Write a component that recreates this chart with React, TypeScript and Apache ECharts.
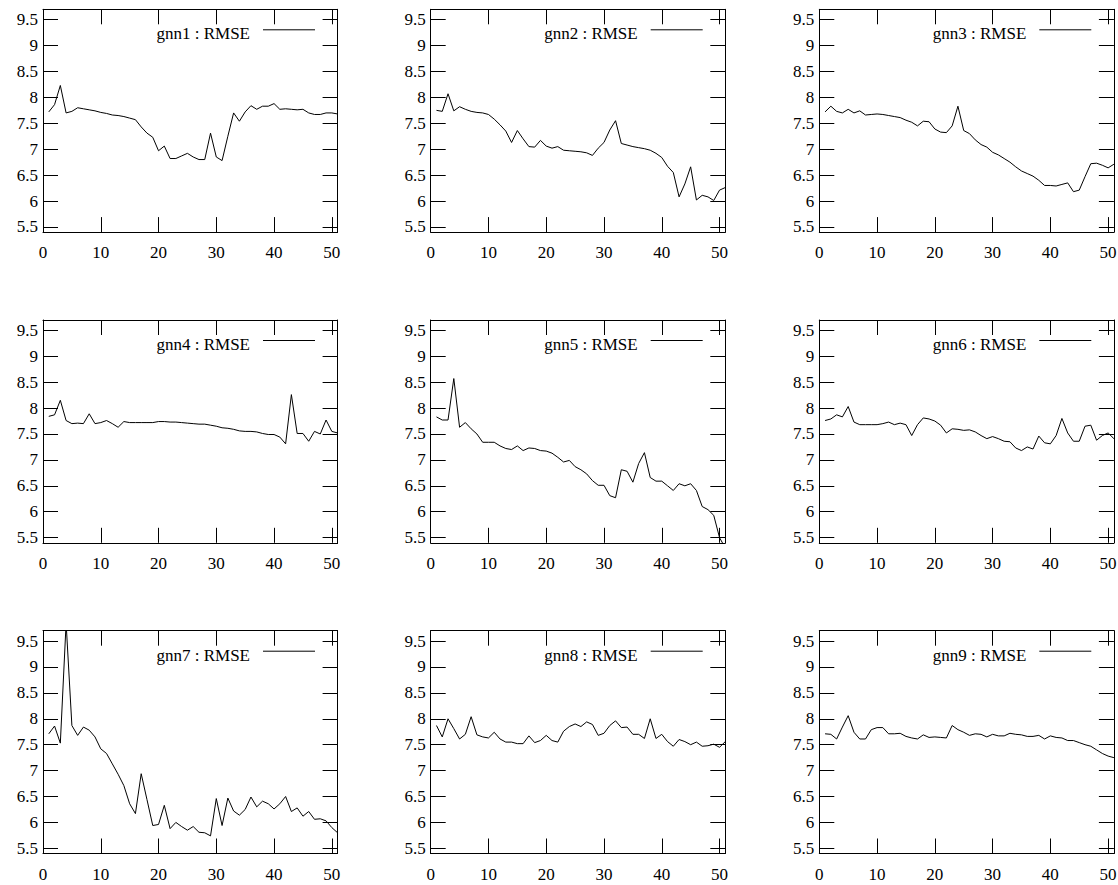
import React, { useEffect, useRef } from "react";
import * as echarts from "echarts";

const X_TICKS = [0, 10, 20, 30, 40, 50];
const Y_TICKS = [5.5, 6, 6.5, 7, 7.5, 8, 8.5, 9, 9.5];
const EPOCHS = [1, 2, 3, 4, 5, 6, 7, 8, 9, 10, 11, 12, 13, 14, 15, 16, 17, 18, 19, 20, 21, 22, 23, 24, 25, 26, 27, 28, 29, 30, 31, 32, 33, 34, 35, 36, 37, 38, 39, 40, 41, 42, 43, 44, 45, 46, 47, 48, 49, 50, 51];
const NAMES = ["gnn1", "gnn2", "gnn3", "gnn4", "gnn5", "gnn6", "gnn7", "gnn8", "gnn9"];
const METRIC = "RMSE";

const gnn1 = [7.72, 7.86, 8.23, 7.70, 7.73, 7.80, 7.78, 7.76, 7.74, 7.71, 7.69, 7.66, 7.65, 7.63, 7.60, 7.57, 7.43, 7.31, 7.23, 6.97, 7.06, 6.82, 6.82, 6.87, 6.92, 6.85, 6.80, 6.80, 7.31, 6.85, 6.78, 7.25, 7.70, 7.54, 7.72, 7.84, 7.77, 7.83, 7.83, 7.88, 7.77, 7.78, 7.77, 7.76, 7.77, 7.70, 7.67, 7.67, 7.70, 7.70, 7.68];
const gnn2 = [7.75, 7.73, 8.07, 7.74, 7.82, 7.77, 7.73, 7.71, 7.70, 7.67, 7.58, 7.47, 7.35, 7.13, 7.36, 7.20, 7.05, 7.04, 7.17, 7.06, 7.02, 7.05, 6.98, 6.97, 6.96, 6.95, 6.93, 6.88, 7.02, 7.13, 7.37, 7.55, 7.11, 7.08, 7.05, 7.03, 7.01, 6.98, 6.92, 6.84, 6.67, 6.55, 6.08, 6.33, 6.66, 6.02, 6.11, 6.08, 6.01, 6.21, 6.26];
const gnn3 = [7.72, 7.83, 7.73, 7.70, 7.77, 7.70, 7.74, 7.66, 7.67, 7.68, 7.67, 7.65, 7.63, 7.61, 7.56, 7.52, 7.45, 7.54, 7.53, 7.39, 7.33, 7.32, 7.45, 7.83, 7.36, 7.30, 7.18, 7.09, 7.04, 6.94, 6.89, 6.82, 6.75, 6.66, 6.58, 6.53, 6.48, 6.40, 6.30, 6.30, 6.29, 6.32, 6.35, 6.18, 6.21, 6.47, 6.72, 6.73, 6.69, 6.64, 6.71];
const gnn4 = [7.84, 7.87, 8.15, 7.76, 7.70, 7.71, 7.70, 7.89, 7.70, 7.72, 7.76, 7.70, 7.63, 7.74, 7.72, 7.72, 7.72, 7.72, 7.72, 7.74, 7.74, 7.73, 7.73, 7.72, 7.71, 7.70, 7.69, 7.69, 7.67, 7.65, 7.62, 7.61, 7.59, 7.56, 7.55, 7.55, 7.54, 7.51, 7.49, 7.49, 7.44, 7.31, 8.26, 7.51, 7.51, 7.36, 7.55, 7.50, 7.77, 7.55, 7.52];
const gnn5 = [7.83, 7.77, 7.77, 8.57, 7.63, 7.72, 7.60, 7.50, 7.34, 7.34, 7.34, 7.27, 7.22, 7.20, 7.27, 7.18, 7.23, 7.22, 7.18, 7.17, 7.13, 7.05, 6.96, 6.99, 6.87, 6.81, 6.73, 6.60, 6.51, 6.51, 6.31, 6.27, 6.81, 6.78, 6.57, 6.93, 7.14, 6.66, 6.59, 6.59, 6.50, 6.41, 6.54, 6.50, 6.54, 6.41, 6.10, 6.04, 5.93, 5.50, 5.30];
const gnn6 = [7.76, 7.79, 7.87, 7.83, 8.03, 7.73, 7.68, 7.68, 7.68, 7.68, 7.70, 7.73, 7.68, 7.71, 7.68, 7.47, 7.68, 7.81, 7.79, 7.75, 7.67, 7.52, 7.60, 7.59, 7.57, 7.58, 7.54, 7.47, 7.41, 7.45, 7.41, 7.36, 7.35, 7.23, 7.18, 7.25, 7.21, 7.46, 7.33, 7.31, 7.47, 7.80, 7.52, 7.36, 7.36, 7.65, 7.67, 7.38, 7.47, 7.52, 7.41];
const gnn7 = [7.71, 7.86, 7.53, 9.85, 7.87, 7.68, 7.84, 7.78, 7.65, 7.42, 7.33, 7.13, 6.93, 6.71, 6.36, 6.17, 6.94, 6.44, 5.94, 5.96, 6.33, 5.88, 6.00, 5.92, 5.85, 5.92, 5.81, 5.80, 5.74, 6.46, 5.94, 6.47, 6.22, 6.14, 6.25, 6.49, 6.30, 6.41, 6.36, 6.26, 6.36, 6.50, 6.21, 6.28, 6.12, 6.21, 6.06, 6.07, 6.03, 5.90, 5.80];
const gnn8 = [7.87, 7.65, 8.00, 7.81, 7.61, 7.70, 8.04, 7.69, 7.65, 7.63, 7.74, 7.61, 7.55, 7.55, 7.52, 7.52, 7.67, 7.54, 7.58, 7.68, 7.58, 7.55, 7.76, 7.85, 7.90, 7.85, 7.94, 7.89, 7.68, 7.72, 7.87, 7.96, 7.83, 7.84, 7.70, 7.70, 7.62, 8.00, 7.62, 7.70, 7.56, 7.47, 7.60, 7.56, 7.50, 7.55, 7.47, 7.48, 7.51, 7.45, 7.56];
const gnn9 = [7.71, 7.70, 7.61, 7.84, 8.06, 7.74, 7.61, 7.61, 7.79, 7.83, 7.83, 7.71, 7.71, 7.72, 7.66, 7.63, 7.61, 7.69, 7.64, 7.65, 7.64, 7.63, 7.87, 7.79, 7.74, 7.68, 7.71, 7.70, 7.65, 7.70, 7.67, 7.67, 7.72, 7.70, 7.69, 7.66, 7.66, 7.68, 7.61, 7.67, 7.64, 7.63, 7.58, 7.58, 7.54, 7.50, 7.47, 7.40, 7.33, 7.28, 7.25];

const SERIES = [gnn1, gnn2, gnn3, gnn4, gnn5, gnn6, gnn7, gnn8, gnn9];

const COL_LEFT = [43, 430.7, 819.3];
const ROW_TOP = [9.3, 320, 630.7];
const PANEL_W = 294.6;
const PANEL_H = 222.8;
const FONT = "Liberation Serif";

function buildOption() {
  const grids: any[] = [];
  const xAxes: any[] = [];
  const yAxes: any[] = [];
  const series: any[] = [];
  const graphics: any[] = [];
  const lineStyle = { color: "#000", width: 1 };

  for (let i = 0; i < 9; i++) {
    const left = COL_LEFT[i % 3];
    const top = ROW_TOP[Math.floor(i / 3)];
    grids.push({ left, top, width: PANEL_W, height: PANEL_H, outerBoundsMode: "none", containLabel: false });
    const xBase = {
      type: "value",
      gridIndex: i,
      min: 0,
      max: 51,
      splitLine: { show: false },
      axisLine: { show: true, onZero: false, lineStyle },
      axisTick: { show: true, inside: true, length: 15, lineStyle, customValues: X_TICKS },
    };
    xAxes.push({
      ...xBase,
      position: "bottom",
      axisLabel: {
        show: true,
        customValues: X_TICKS,
        color: "#000",
        fontFamily: FONT,
        fontSize: 17,
        margin: 12,
      },
    });
    xAxes.push({ ...xBase, position: "top", axisLabel: { show: false } });
    const yBase = {
      type: "value",
      gridIndex: i,
      min: 5.4,
      max: 9.7,
      splitLine: { show: false },
      axisLine: { show: true, onZero: false, lineStyle },
      axisTick: { show: true, inside: true, length: 15, lineStyle, customValues: Y_TICKS },
    };
    yAxes.push({
      ...yBase,
      position: "left",
      axisLabel: {
        show: true,
        customValues: Y_TICKS,
        color: "#000",
        fontFamily: FONT,
        fontSize: 17,
        margin: 5,
      },
    });
    yAxes.push({ ...yBase, position: "right", axisLabel: { show: false } });

    series.push({
      type: "line",
      name: NAMES[i],
      xAxisIndex: i * 2,
      yAxisIndex: i * 2,
      data: EPOCHS.map((e, k) => [e, SERIES[i][k]]),
      showSymbol: false,
      symbol: "none",
      clip: true,
      lineStyle: { color: "#000", width: 1 },
    });

    graphics.push({
      type: "text",
      x: left + 207,
      y: top + 24.5,
      style: {
        text: `${NAMES[i]} : ${METRIC}`,
        fill: "#000",
        font: `17px "${FONT}"`,
        align: "right",
        verticalAlign: "middle",
      },
    });
    graphics.push({
      type: "line",
      shape: { x1: left + 220, y1: top + 20.5, x2: left + 272, y2: top + 20.5 },
      style: { stroke: "#000", lineWidth: 1 },
    });
  }

  return {
    animation: false,
    backgroundColor: "#fff",
    grid: grids,
    xAxis: xAxes,
    yAxis: yAxes,
    series,
    graphic: graphics,
  };
}

export default function App() {
  const ref = useRef<HTMLDivElement>(null);
  useEffect(() => {
    if (!ref.current) return;
    const chart = echarts.init(ref.current, undefined, { renderer: "svg" });
    chart.setOption(buildOption() as any);
    return () => chart.dispose();
  }, []);
  return (
    <div
      ref={ref}
      style={{ position: "fixed", left: 0, top: 0, width: 1118, height: 885, background: "#fff" }}
    />
  );
}
